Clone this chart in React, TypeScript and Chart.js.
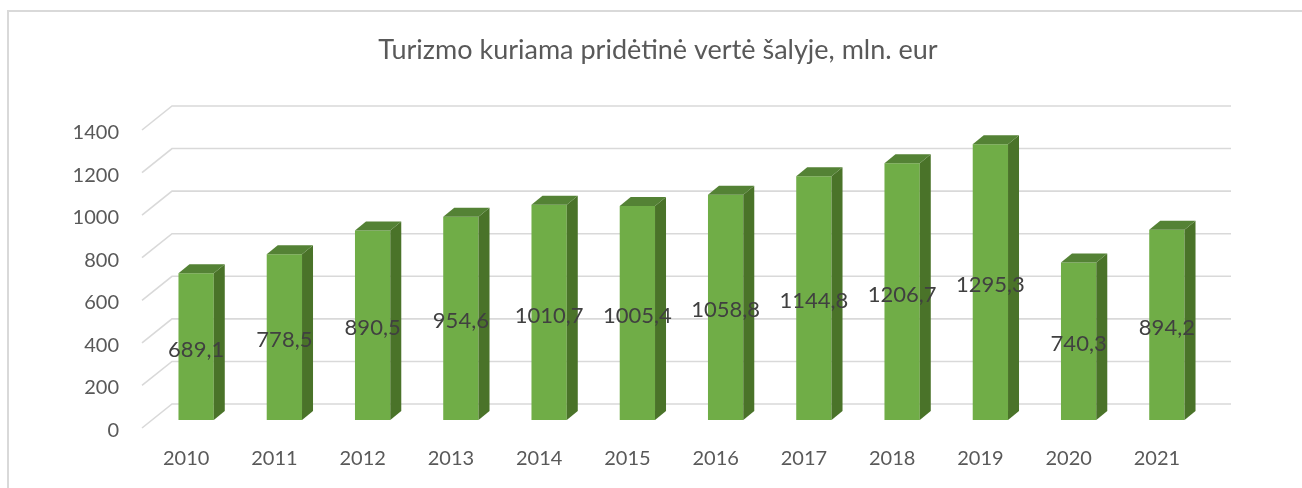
import React, { useEffect, useRef } from "react";
import { Chart, registerables } from "chart.js";

Chart.register(...registerables);

const TITLE = "Turizmo kuriama pridėtinė vertė šalyje, mln. eur";
const YEARS = ["2010", "2011", "2012", "2013", "2014", "2015", "2016", "2017", "2018", "2019", "2020", "2021"];
const VALUES = [689.1, 778.5, 890.5, 954.6, 1010.7, 1005.4, 1058.8, 1144.8, 1206.7, 1295.3, 740.3, 894.2];
const Y_TICKS = [0, 200, 400, 600, 800, 1000, 1200, 1400];

const FONT = "Lato";
const FRONT = "#70AD47";
const TOP = "#548235";
const SIDE = "#4A7329";
const GRID = "#D9D9D9";

// 3D geometry offsets
const DEPTH_DX = 11;
const DEPTH_DY = 9;
const BACK_DX = 20;
const BACK_DY = 16;
const FRONT_DX = 10;
const FRONT_DY = 8;

const fmt = (v: number) => v.toFixed(1).replace(".", ",");

const threeD = {
  id: "threeD",
  beforeDraw(chart: any) {
    const ctx = chart.ctx;
    ctx.save();
    ctx.fillStyle = "#ffffff";
    ctx.fillRect(0, 0, chart.width, chart.height);
    ctx.strokeStyle = GRID;
    ctx.lineWidth = 2;
    ctx.beginPath();
    ctx.moveTo(8, chart.height + 5);
    ctx.lineTo(8, 11);
    ctx.lineTo(chart.width + 5, 11);
    ctx.stroke();
    ctx.restore();
  },
  beforeDatasetsDraw(chart: any) {
    const ctx = chart.ctx;
    const y = chart.scales.y;
    const area = chart.chartArea;
    ctx.save();
    ctx.strokeStyle = GRID;
    ctx.lineWidth = 1.6;
    Y_TICKS.forEach((v) => {
      const py = y.getPixelForValue(v);
      ctx.beginPath();
      ctx.moveTo(area.left - FRONT_DX, py + FRONT_DY);
      ctx.lineTo(area.left + BACK_DX, py - BACK_DY);
      ctx.lineTo(area.right + BACK_DX, py - BACK_DY);
      ctx.stroke();
    });
    ctx.restore();
  },
  afterDatasetsDraw(chart: any) {
    const ctx = chart.ctx;
    const meta = chart.getDatasetMeta(0);
    ctx.save();
    meta.data.forEach((bar: any) => {
      const { x, y, base, width } = bar.getProps(["x", "y", "base", "width"], true);
      const l = x - width / 2;
      const r = x + width / 2;
      ctx.fillStyle = SIDE;
      ctx.beginPath();
      ctx.moveTo(r, y);
      ctx.lineTo(r + DEPTH_DX, y - DEPTH_DY);
      ctx.lineTo(r + DEPTH_DX, base - DEPTH_DY);
      ctx.lineTo(r, base);
      ctx.closePath();
      ctx.fill();
      ctx.fillStyle = TOP;
      ctx.beginPath();
      ctx.moveTo(l, y);
      ctx.lineTo(l + DEPTH_DX, y - DEPTH_DY);
      ctx.lineTo(r + DEPTH_DX, y - DEPTH_DY);
      ctx.lineTo(r, y);
      ctx.closePath();
      ctx.fill();
    });
    ctx.fillStyle = "#404040";
    ctx.font = `22px ${FONT}`;
    ctx.textAlign = "center";
    ctx.textBaseline = "middle";
    meta.data.forEach((bar: any, i: number) => {
      const { x, y, base } = bar.getProps(["x", "y", "base"], true);
      ctx.fillText(fmt(VALUES[i]), x, (y + base) / 2 + 3);
    });
    ctx.restore();
  },
};

export default function App() {
  const ref = useRef<HTMLCanvasElement | null>(null);
  useEffect(() => {
    if (!ref.current) return;
    const chart = new Chart(ref.current, {
      type: "bar",
      data: {
        labels: YEARS,
        datasets: [
          {
            data: VALUES,
            backgroundColor: FRONT,
            borderWidth: 0,
            barPercentage: 0.4,
            categoryPercentage: 1,
          },
        ],
      },
      options: {
        animation: false,
        responsive: false,
        devicePixelRatio: 1,
        layout: { padding: { left: 14, right: 0, top: 0, bottom: 0 } },
        plugins: {
          legend: { display: false },
          tooltip: { enabled: false },
          title: {
            display: true,
            text: TITLE,
            color: "#595959",
            font: { family: FONT, size: 27, weight: "normal", lineHeight: 1.2 },
            padding: { top: 34, bottom: 55.6 },
          },
        },
        scales: {
          x: {
            grid: { display: false, drawTicks: false },
            border: { display: false },
            ticks: {
              color: "#595959",
              font: { family: FONT, size: 20 },
              labelOffset: -FRONT_DX,
              padding: 27,
              maxRotation: 0,
            },
            afterFit: (s: any) => {
              s.height = 68;
            },
          },
          y: {
            position: "left",
            min: 0,
            max: 1400,
            grid: { display: false, drawTicks: false },
            border: { display: false },
            ticks: {
              stepSize: 200,
              color: "#595959",
              font: { family: FONT, size: 20 },
              labelOffset: FRONT_DY + 2.5,
              padding: 33,
              callback: (v: any) => String(v),
            },
            afterFit: (s: any) => {
              s.width = 138;
            },
          },
          yRight: {
            position: "right",
            display: true,
            min: 0,
            max: 1400,
            grid: { display: false, drawTicks: false },
            border: { display: false },
            ticks: { display: false },
            afterFit: (s: any) => {
              s.width = 91;
            },
          },
        },
      },
      plugins: [threeD],
    });
    return () => chart.destroy();
  }, []);
  return (
    <div style={{ position: "absolute", left: 0, top: 0, width: 1302, height: 488 }}>
      <canvas ref={ref} width={1302} height={488} />
    </div>
  );
}
